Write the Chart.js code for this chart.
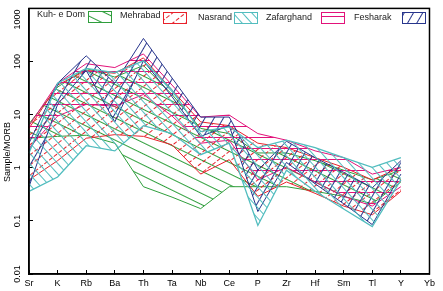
<!DOCTYPE html>
<html>
<head>
<meta charset="utf-8">
<script src="https://cdn.jsdelivr.net/npm/chart.js@4.4.1/dist/chart.umd.min.js"></script>
<style>
  html, body { margin: 0; padding: 0; background: #fff; }
  canvas { display: block; }
</style>
</head>
<body>
<canvas id="grafica" width="443" height="291"></canvas>
<script>
// ======================
// DATOS
// ======================
const elementos = ['Sr', 'K', 'Rb', 'Ba', 'Th', 'Ta', 'Nb', 'Ce', 'P', 'Zr', 'Hf', 'Sm', 'Tl', 'Y', 'Yb'];
const ticksY = [0.01, 0.1, 1, 10, 100, 1000];

// envolvente superior / inferior de cada grupo (Sample/MORB), Sr..Y
const kuhSup = [6.7, 33, 74, 51, 84, 24, 5.5, 4.4, 1.9, 1.9, 1.36, 0.9, 0.59, 0.9];
const kuhInf = [3.6, 3.9, 4.1, 2.9, 0.44, 0.28, 0.17, 0.44, 0.44, 0.44, 0.36, 0.29, 0.21, 0.54];

const mehSup = [5.5, 36, 68, 60, 117, 29, 7.3, 6.2, 2.9, 2.4, 1.55, 1.02, 0.59, 1.02];
const mehInf = [0.59, 1.36, 3.6, 4.2, 3.9, 2.7, 0.76, 1.42, 0.29, 0.54, 0.33, 0.19, 0.13, 0.36];

const nasSup = [1.9, 39, 74, 62, 103, 29, 4.8, 5.9, 2.4, 3.3, 2.4, 1.55, 1.02, 1.55];
const nasInf = [0.36, 0.67, 2.6, 2.08, 6.2, 4.4, 1.76, 2.9, 0.082, 0.9, 0.36, 0.167, 0.078, 0.59];

const zafSup = [6.2, 39, 91, 77, 139, 36, 9.0, 9.8, 4.4, 3.3, 2.08, 1.55, 0.76, 1.02];
const zafInf = [2.36, 9.4, 15.6, 14.4, 24, 9.4, 2.9, 3.3, 0.59, 1.02, 0.54, 0.29, 0.19, 0.44];

const fesSup = [2.9, 39, 128, 39, 272, 49, 9.0, 9.0, 0.9, 3.16, 1.55, 0.82, 0.42, 1.36];
const fesInf = [0.44, 15.6, 68, 7.3, 103, 21.8, 3.9, 6.2, 0.15, 1.26, 0.50, 0.21, 0.085, 0.76];

// ======================
// TRAMAS (rayado)
// ======================
function trama(color, angulo, paso, guion) {
    const t = document.createElement('canvas');
    t.width = 48;
    t.height = paso;
    const g = t.getContext('2d');
    g.strokeStyle = color;
    g.lineWidth = 1;
    if (guion) g.setLineDash(guion);
    g.beginPath();
    g.moveTo(0, Math.floor(paso / 2) + 0.5);
    g.lineTo(48, Math.floor(paso / 2) + 0.5);
    g.stroke();
    const p = g.createPattern(t, 'repeat');
    if (angulo) p.setTransform(new DOMMatrix().rotate(angulo));
    return p;
}

const grupos = [
    { nombre: 'Kuh- e Dom', sup: kuhSup, inf: kuhInf, color: '#2f9e3c', patron: trama('#2f9e3c', 26, 10), ancho: 1 },
    { nombre: 'Mehrabad',   sup: mehSup, inf: mehInf, color: '#e8212b', patron: trama('#e8212b', -38, 8, [4, 2]), ancho: 1 },
    { nombre: 'Nasrand',    sup: nasSup, inf: nasInf, color: '#52bdbf', patron: trama('#52bdbf', 48, 7), ancho: 1.3 },
    { nombre: 'Zafarghand', sup: zafSup, inf: zafInf, color: '#e2127a', patron: trama('#e2127a', 0, 11), ancho: 1 },
    { nombre: 'Fesharak',   sup: fesSup, inf: fesInf, color: '#27358c', patron: trama('#27358c', -60, 8), ancho: 1 }
];

// orden de dibujo: el primero queda encima
const ordenDibujo = [2, 4, 3, 1, 0];
const datasets = [];
ordenDibujo.forEach(i => {
    const g = grupos[i];
    datasets.push({
        label: g.nombre,
        data: g.sup,
        borderColor: g.color,
        borderWidth: g.ancho,
        pointRadius: 0,
        tension: 0,
        fill: false
    });
    datasets.push({
        label: g.nombre + ' inf',
        data: g.inf,
        borderColor: g.color,
        borderWidth: g.ancho,
        backgroundColor: g.patron,
        pointRadius: 0,
        tension: 0,
        fill: '-1'
    });
});

// ======================
// PLUGIN: marco, etiquetas Y, leyenda
// ======================
const extras = {
    id: 'extras',
    afterDraw(chart) {
        const ctx = chart.ctx;
        const a = chart.chartArea;
        const y = chart.scales.y;
        ctx.save();

        // marco
        ctx.strokeStyle = '#000';
        ctx.lineWidth = 1.5;
        ctx.strokeRect(a.left, a.top, a.right - a.left, a.bottom - a.top);

        // etiquetas del eje Y (giradas)
        ctx.fillStyle = '#000';
        ctx.font = '9px "Liberation Sans", Arial, sans-serif';
        ctx.textAlign = 'center';
        ctx.textBaseline = 'middle';
        ticksY.forEach(v => {
            let py = y.getPixelForValue(v);
            py = Math.max(py, a.top + 11);
            ctx.save();
            ctx.translate(18, py);
            ctx.rotate(-Math.PI / 2);
            ctx.fillText(String(v), 0, 0);
            ctx.restore();
        });

        // titulo Y
        ctx.save();
        ctx.translate(8, 152);
        ctx.rotate(-Math.PI / 2);
        ctx.fillText('Sample/MORB', 0, 0);
        ctx.restore();

        // leyenda: texto y luego la caja
        const posTexto = [[37, 15], [120, 16], [198, 18], [266, 18], [354, 18]];
        const posCaja = [[88, 11], [163, 12], [234, 12], [321, 12], [402, 12]];
        ctx.textAlign = 'left';
        grupos.forEach((g, i) => {
            ctx.fillStyle = '#1c1c1c';
            ctx.fillText(g.nombre, posTexto[i][0], posTexto[i][1]);
            const [bx, by] = posCaja[i];
            ctx.fillStyle = g.patron;
            ctx.fillRect(bx, by, 23, 11);
            ctx.strokeStyle = g.color;
            ctx.lineWidth = 1;
            ctx.strokeRect(bx + 0.5, by + 0.5, 23, 11);
        });
        ctx.restore();
    }
};

new Chart(document.getElementById('grafica'), {
    type: 'line',
    data: {
        labels: elementos,
        datasets: datasets
    },
    options: {
        responsive: false,
        animation: false,
        devicePixelRatio: 1,
        layout: { padding: { top: 1, right: 6, left: 0, bottom: 0 } },
        plugins: {
            legend: { display: false },
            tooltip: { enabled: false },
            filler: { propagate: false }
        },
        scales: {
            x: {
                type: 'category',
                offset: false,
                grid: { drawOnChartArea: false, drawTicks: true, tickLength: -4, color: '#000' },
                border: { color: '#000', width: 1.5 },
                ticks: {
                    color: '#000',
                    font: { size: 9, family: '"Liberation Sans", Arial, sans-serif' },
                    padding: 8,
                    maxRotation: 0,
                    autoSkip: false
                },
                afterFit: s => { s.height = 17; }
            },
            y: {
                type: 'logarithmic',
                min: 0.01,
                max: 1000,
                afterBuildTicks: s => { s.ticks = ticksY.map(v => ({ value: v })); },
                grid: { drawOnChartArea: false, drawTicks: true, tickLength: -4, color: '#000' },
                border: { color: '#000', width: 1.5 },
                ticks: { color: 'rgba(0,0,0,0)', font: { size: 9 } },
                afterFit: s => { s.width = 29; }
            }
        }
    },
    plugins: [extras]
});
</script>
</body>
</html>
